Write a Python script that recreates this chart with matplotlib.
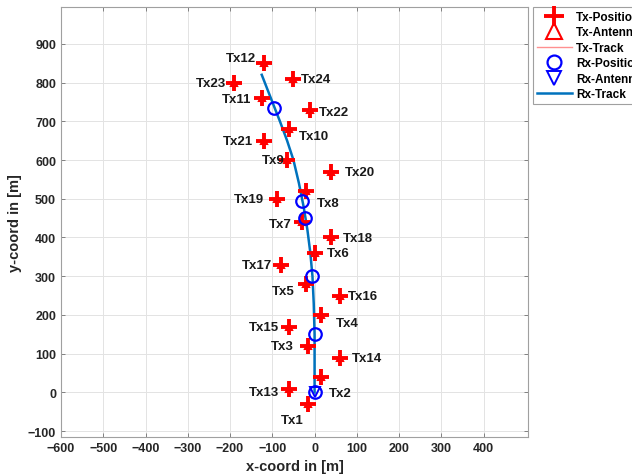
import numpy as np
import matplotlib
matplotlib.use("Agg")
import matplotlib.pyplot as plt

plt.rcParams['font.family'] = ['Liberation Sans', 'DejaVu Sans']
plt.rcParams['font.weight'] = 'bold'

# transmitter positions [m]
tx_names = ["Tx%d" % i for i in range(1, 25)]
tx_x = [-15, 15, -15, 15, -20, 0, -30, -20, -65, -60, -125, -120,
        -60, 60, -60, 60, -80, 40, -90, 40, -120, -10, -190, -50]
tx_y = [-30, 40, 120, 200, 280, 360, 440, 520, 600, 680, 760, 850,
        10, 90, 170, 250, 330, 400, 500, 570, 650, 730, 800, 810]

# label offsets in pixels (dx, dy), dy positive = up
lbl_off = [(-16, -16), (19, -16), (-26, 0), (26, -8), (-23, -7), (24, 0),
           (-22, -2), (22, -12), (-14, 0), (25, -7), (-25, -1), (-23, 5),
           (-25, -3), (27, 0), (-25, 0), (23, 0), (-24, 0), (26, -1),
           (-28, 0), (28, 0), (-26, 0), (24, -2), (-23, 0), (23, 0)]

# receiver track and positions [m]
rx_track_x = [0, 0, -2, -5, -10, -17, -26, -37, -50, -65, -82, -100, -125]
rx_track_y = [0, 150, 230, 300, 360, 420, 480, 540, 600, 650, 700, 750, 820]
rx_x = [0, 0, -5, -22, -30, -95]
rx_y = [0, 150, 300, 450, 495, 735]

W, H = 632, 477
fig = plt.figure(figsize=(W / 100, H / 100), dpi=100)
ax = fig.add_axes([61 / W, 1 - 438 / H, (528 - 61) / W, (438 - 8) / H])

red = '#FF0000'
blue = '#0000FF'

ax.plot(tx_x, tx_y, linestyle='none', marker='+', color=red, markersize=12,
        markeredgewidth=2.8, label='Tx-Position', zorder=3)
ax.plot(tx_x, tx_y, linestyle='none', marker='^', color=red, markersize=5,
        markerfacecolor='none', markeredgewidth=1.5, label='Tx-Antenna', zorder=3)
ax.plot([], [], color='#FF9090', lw=1, label='Tx-Track')
ax.plot(rx_x, rx_y, linestyle='none', marker='o', color=blue, markersize=9,
        markerfacecolor='none', markeredgewidth=1.6, label='Rx-Position', zorder=4)
ax.plot(rx_x[:1], rx_y[:1], linestyle='none', marker='v', color=blue, markersize=7,
        markerfacecolor='none', markeredgewidth=1.4, label='Rx-Antenna', zorder=4)
ax.plot(rx_track_x, rx_track_y, color='#0072BD', lw=1.8, label='Rx-Track', zorder=2)

for name, x, y, (dx, dy) in zip(tx_names, tx_x, tx_y, lbl_off):
    ax.annotate(name, (x, y), xytext=(dx, dy), textcoords='offset pixels',
                ha='center', va='center', fontsize=9.5, fontweight='bold',
                color='#1a1a1a', zorder=5)

ax.set_xlim(-600, 505)
ax.set_ylim(-115, 995)
ax.set_xticks(np.arange(-600, 401, 100))
ax.set_yticks(np.arange(-100, 901, 100))
ax.grid(True, color='#E3E3E3', lw=0.7)
ax.set_axisbelow(True)
ax.tick_params(direction='in', top=True, right=True, length=3, width=0.7,
               colors='#808080', labelcolor='#262626', labelsize=9)
for lab in ax.get_xticklabels() + ax.get_yticklabels():
    lab.set_fontweight('bold')
for s in ax.spines.values():
    s.set_color('#A0A0A0')
    s.set_linewidth(0.8)
ax.set_xlabel('x-coord in [m]', fontsize=10.5, fontweight='bold', color='#262626', labelpad=4)
ax.set_ylabel('y-coord in [m]', fontsize=10.5, fontweight='bold', color='#262626', labelpad=4)

leg = fig.legend(loc='upper left', bbox_to_anchor=(533 / W, 1 - 8 / H),
                 prop={'size': 8.5, 'weight': 'bold'}, handlelength=3.0,
                 handleheight=0.6, handletextpad=0.35, labelspacing=0.3,
                 borderpad=0.3, borderaxespad=0, fancybox=False, framealpha=1)
leg.get_frame().set_edgecolor('#A0A0A0')
leg.get_frame().set_linewidth(0.8)
for h, ms in zip(leg.legend_handles, [15, 11, 0, 10, 10, 0]):
    if ms:
        h.set_markersize(ms)

fig.savefig('out.png', dpi=100)
